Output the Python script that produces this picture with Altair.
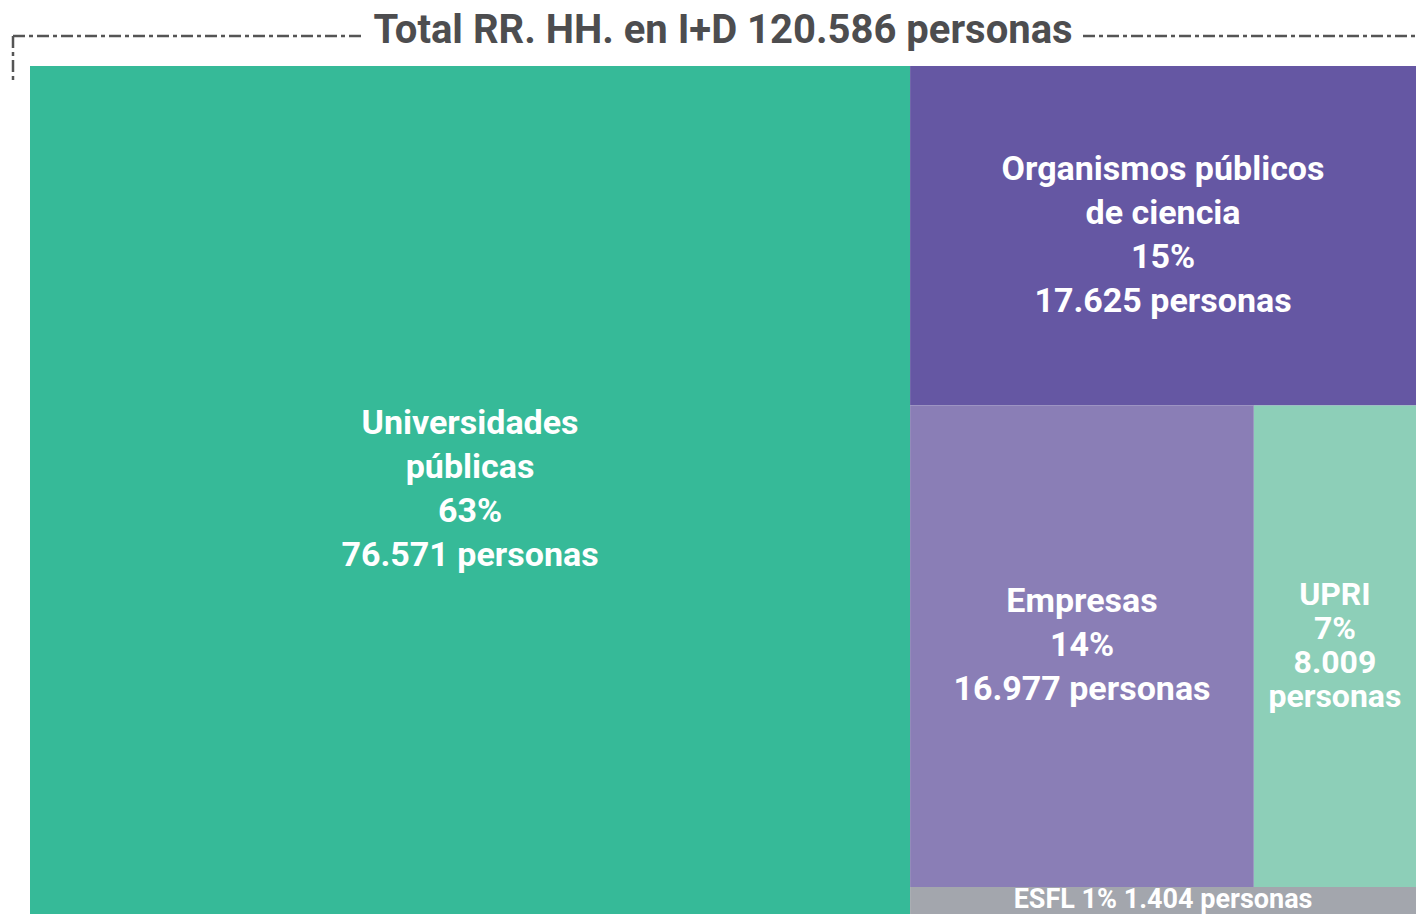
import altair as alt
import pandas as pd

# ---- data ----
title_text = "Total RR. HH. en I+D 120.586 personas"
categories = ["Universidades públicas", "Organismos públicos de ciencia", "Empresas", "UPRI", "ESFL"]
personas = [76571, 17625, 16977, 8009, 1404]
percent_labels = ["63%", "15%", "14%", "7%", "1%"]
person_labels = ["76.571", "17.625", "16.977", "8.009", "1.404"]
colors = ["#36BA98", "#6557A3", "#8A7EB6", "#8DCFB8", "#A3A6AD"]

# ---- treemap layout computed from values (unit square, y from top) ----
total = sum(personas)
uni, opc, emp, upri, esfl = personas
rest = total - uni
w_uni = uni / total
h_opc = opc / rest
h_mid = (emp + upri) / rest
w_emp = emp / (emp + upri)

rects = {
    "Universidades públicas": (0, w_uni, 0, 1),
    "Organismos públicos de ciencia": (w_uni, 1, 0, h_opc),
    "Empresas": (w_uni, w_uni + (1 - w_uni) * w_emp, h_opc, h_opc + h_mid),
    "UPRI": (w_uni + (1 - w_uni) * w_emp, 1, h_opc, h_opc + h_mid),
    "ESFL": (w_uni, 1, h_opc + h_mid, 1),
}

label_lines = {
    "Universidades públicas": "Universidades\npúblicas\n{p}\n{n} personas",
    "Organismos públicos de ciencia": "Organismos públicos\nde ciencia\n{p}\n{n} personas",
    "Empresas": "Empresas\n{p}\n{n} personas",
    "UPRI": "UPRI\n{p}\n{n}\npersonas",
    "ESFL": "ESFL {p}  {n} personas",
}
groups = {"Universidades públicas": "four", "Organismos públicos de ciencia": "four",
          "Empresas": "three", "UPRI": "tight", "ESFL": "small"}

rows = []
for c, v, p, n in zip(categories, personas, percent_labels, person_labels):
    x0, x1, y0, y1 = rects[c]
    rows.append({
        "cat": c, "value": v, "x0": x0, "x1": x1, "y0": y0, "y1": y1,
        "cx": (x0 + x1) / 2, "cy": (y0 + y1) / 2,
        "label": label_lines[c].format(p=p, n=n), "group": groups[c],
    })
df = pd.DataFrame(rows)

W, H = 1386, 848
xs = alt.Scale(domain=[0, 1], nice=False, zero=False)
ys = alt.Scale(domain=[0, 1], nice=False, zero=False, reverse=True)

base = alt.Chart(df)

rect = base.mark_rect().encode(
    x=alt.X("x0:Q", scale=xs, axis=None),
    x2="x1:Q",
    y=alt.Y("y0:Q", scale=ys, axis=None),
    y2="y1:Q",
    color=alt.Color("cat:N", scale=alt.Scale(domain=categories, range=colors), legend=None),
)

def label_layer(group, size, line_height, n_lines):
    return base.transform_filter(alt.datum.group == group).mark_text(
        font="Roboto", fontSize=size, fontWeight="bold", color="white",
        lineBreak="\n", lineHeight=line_height, align="center", baseline="middle",
        dy=-(n_lines - 1) * line_height / 2,
    ).encode(
        x=alt.X("cx:Q", scale=xs, axis=None),
        y=alt.Y("cy:Q", scale=ys, axis=None),
        text="label:N",
    )

labels_four = label_layer("four", 34, 44, 4)
labels_three = label_layer("three", 34, 44, 3)
labels_tight = label_layer("tight", 32, 34, 4)
labels_small = label_layer("small", 27, 28, 1)

title_df = pd.DataFrame({"t": [title_text]})
title = alt.Chart(title_df).mark_text(
    font="Roboto", fontSize=40, fontWeight="bold", color="#4d4d4f",
    align="center", baseline="middle",
).encode(x=alt.value(W / 2), y=alt.value(-35), text="t:N")

dash = [12, 4, 4, 4]
rule_style = dict(color="#555555", strokeWidth=2.5, strokeDash=dash)
rule_left = alt.Chart(title_df).mark_rule(**rule_style).encode(
    x=alt.value(-17), x2=alt.value(335), y=alt.value(-30))
rule_right = alt.Chart(title_df).mark_rule(**rule_style).encode(
    x=alt.value(1053), x2=alt.value(W), y=alt.value(-30))
rule_vert = alt.Chart(title_df).mark_rule(**rule_style).encode(
    x=alt.value(-17), y=alt.value(-30), y2=alt.value(14))

chart = alt.layer(
    rect, labels_four, labels_three, labels_tight, labels_small,
    title, rule_left, rule_right, rule_vert
).properties(
    width=W, height=H,
    autosize=alt.AutoSizeParams(type="none"),
    padding={"left": 22, "top": 58, "right": 0, "bottom": 0},
).configure_view(stroke=None)

chart.save("out.html", embed_options={"renderer": "svg", "actions": False})
